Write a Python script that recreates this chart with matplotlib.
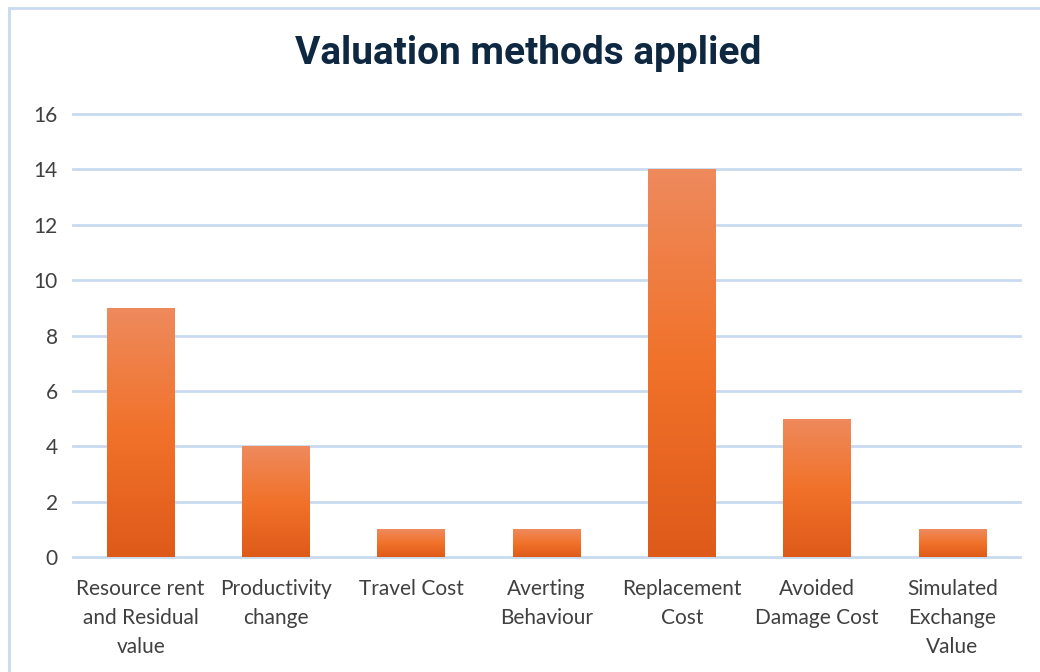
import matplotlib
matplotlib.use("Agg")
import matplotlib.pyplot as plt
import numpy as np
from matplotlib.colors import LinearSegmentedColormap
from matplotlib.lines import Line2D

categories = ["Resource rent\nand Residual\nvalue", "Productivity\nchange", "Travel Cost",
              "Averting\nBehaviour", "Replacement\nCost", "Avoided\nDamage Cost",
              "Simulated\nExchange\nValue"]
values = [9, 4, 1, 1, 14, 5, 1]
yticks = [0, 2, 4, 6, 8, 10, 12, 14, 16]
title = "Valuation methods applied"

W, H = 1040, 672
fig = plt.figure(figsize=(W / 100, H / 100), dpi=100)
fig.patch.set_facecolor("white")
ax = fig.add_axes([73 / W, 1 - 557 / H, (1020 - 73) / W, (557 - 114) / H])

grid_c = "#C9DAF0"
txt_c = "#404040"
x = np.arange(len(categories))
bars = ax.bar(x, values, width=0.5, color="none", edgecolor="none", zorder=3)

cmap = LinearSegmentedColormap.from_list("g", ["#DE5A19", "#F1722A", "#EE8A5D"])
grad = np.linspace(0, 1, 256).reshape(-1, 1)
for b in bars:
    x0, y0 = b.get_x(), b.get_y()
    w, h = b.get_width(), b.get_height()
    im = ax.imshow(grad, extent=[x0, x0 + w, y0, y0 + h], origin="lower",
                   cmap=cmap, aspect="auto", zorder=3, interpolation="bilinear")
    im.set_clip_path(b)

ax.set_xlim(-0.5, len(categories) - 0.5)
ax.set_ylim(0, 16)
for t in yticks:
    ax.axhline(t, color=grid_c, lw=2, zorder=1, clip_on=False)
ax.set_yticks(yticks)
ax.set_yticklabels([str(t) for t in yticks], fontsize=15, color=txt_c, family="Lato")
ax.set_xticks(x)
ax.set_xticklabels(categories, fontsize=15, color=txt_c, family="Lato", linespacing=1.55)
ax.tick_params(axis="both", length=0)
ax.tick_params(axis="x", pad=16)
ax.tick_params(axis="y", pad=11)
for s in ax.spines.values():
    s.set_visible(False)

fig.text(528 / W, 1 - 54 / H, title, ha="center", va="center", fontsize=28,
         fontweight="bold", color="#0E2841", family="Roboto")

fig.add_artist(Line2D([9 / W, 9 / W], [0, 1 - 8 / H], color=grid_c, lw=2,
                      transform=fig.transFigure))
fig.add_artist(Line2D([9 / W, 1], [1 - 8 / H, 1 - 8 / H], color=grid_c, lw=2,
                      transform=fig.transFigure))

fig.savefig("out.png", dpi=100)
